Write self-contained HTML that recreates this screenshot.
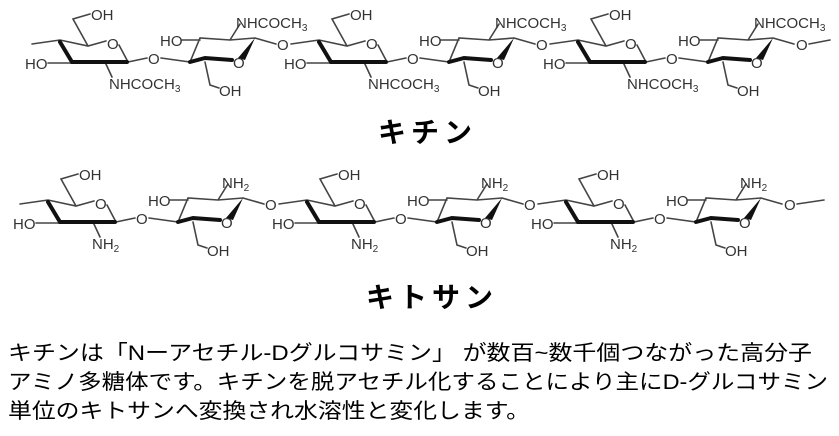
<!DOCTYPE html>
<html><head><meta charset="utf-8"><style>
html,body{margin:0;padding:0;background:#fff;}
svg{display:block;}
.s{stroke:#444;stroke-width:1.6;fill:none;stroke-linecap:round;}
.b{stroke:#111;stroke-width:4;fill:none;stroke-linecap:round;}
.t{font-family:"Liberation Sans",Arial,sans-serif;font-size:15px;fill:#333;}
.sub{font-size:10px;}
.h{font-family:"Liberation Sans","Noto Sans CJK JP",sans-serif;font-weight:bold;font-size:28px;fill:#000;}
.p{font-family:"Liberation Sans","Noto Sans CJK JP",sans-serif;font-size:21px;fill:#000;}
</style></head><body>
<svg width="839" height="436" viewBox="0 0 839 436" xmlns="http://www.w3.org/2000/svg">
<!-- CHITIN -->
<g>
<path class="s" d="M32 44 L60 40 L88 46 L106 41 M119 45 L128 62 M88 46 L73 19 L90 14 M48 63 L72 63 M105 62 L112 77 M128 62 L147 58 M161 58 L190 62 L200 38 L230 40 L255 38 M182 40 L200 40 M230 40 L240 24 M205 62 L210 85 L219 88 M255 38 L276 44"/>
<path class="b" d="M60 42 L72 62 L105 62 L127 62 M190 62 L205 58 L232 60"/>
<path d="M255 38 L238 58 L245 60 Z" fill="#111"/>
<text class="t" x="91" y="20">OH</text>
<text class="t" x="107" y="49">O</text>
<text class="t" x="25" y="69">HO</text>
<text class="t" x="109" y="89">NHCOCH<tspan class="sub" dy="3">3</tspan></text>
<text class="t" x="148" y="64">O</text>
<text class="t" x="160" y="46">HO</text>
<text class="t" x="236" y="28">NHCOCH<tspan class="sub" dy="3">3</tspan></text>
<text class="t" x="233" y="68">O</text>
<text class="t" x="219" y="96">OH</text>
</g>
<g transform="translate(259,0)">
<path class="s" d="M32 44 L60 40 L88 46 L106 41 M119 45 L128 62 M88 46 L73 19 L90 14 M48 63 L72 63 M105 62 L112 77 M128 62 L147 58 M161 58 L190 62 L200 38 L230 40 L255 38 M182 40 L200 40 M230 40 L240 24 M205 62 L210 85 L219 88 M255 38 L276 44"/>
<path class="b" d="M60 42 L72 62 L105 62 L127 62 M190 62 L205 58 L232 60"/>
<path d="M255 38 L238 58 L245 60 Z" fill="#111"/>
<text class="t" x="18" y="50">O</text>
<text class="t" x="91" y="20">OH</text>
<text class="t" x="107" y="49">O</text>
<text class="t" x="25" y="69">HO</text>
<text class="t" x="109" y="89">NHCOCH<tspan class="sub" dy="3">3</tspan></text>
<text class="t" x="148" y="64">O</text>
<text class="t" x="160" y="46">HO</text>
<text class="t" x="236" y="28">NHCOCH<tspan class="sub" dy="3">3</tspan></text>
<text class="t" x="233" y="68">O</text>
<text class="t" x="219" y="96">OH</text>
</g>
<g transform="translate(518,0)">
<path class="s" d="M32 44 L60 40 L88 46 L106 41 M119 45 L128 62 M88 46 L73 19 L90 14 M48 63 L72 63 M105 62 L112 77 M128 62 L147 58 M161 58 L190 62 L200 38 L230 40 L255 38 M182 40 L200 40 M230 40 L240 24 M205 62 L210 85 L219 88 M255 38 L276 44 M291 44 L312 40"/>
<path class="b" d="M60 42 L72 62 L105 62 L127 62 M190 62 L205 58 L232 60"/>
<path d="M255 38 L238 58 L245 60 Z" fill="#111"/>
<text class="t" x="18" y="50">O</text>
<text class="t" x="91" y="20">OH</text>
<text class="t" x="107" y="49">O</text>
<text class="t" x="25" y="69">HO</text>
<text class="t" x="109" y="89">NHCOCH<tspan class="sub" dy="3">3</tspan></text>
<text class="t" x="148" y="64">O</text>
<text class="t" x="160" y="46">HO</text>
<text class="t" x="236" y="28">NHCOCH<tspan class="sub" dy="3">3</tspan></text>
<text class="t" x="233" y="68">O</text>
<text class="t" x="219" y="96">OH</text>
<text class="t" x="278" y="50">O</text>
</g>
<text class="h" x="378" y="142" letter-spacing="5">キチン</text>

<!-- CHITOSAN -->
<g transform="translate(-12,160)">
<path class="s" d="M32 44 L60 40 L88 46 L106 41 M119 45 L128 62 M88 46 L73 19 L90 14 M48 63 L72 63 M105 62 L112 77 M128 62 L147 58 M161 58 L190 62 L200 38 L230 40 L255 38 M182 40 L200 40 M230 40 L240 24 M205 62 L210 85 L219 88 M255 38 L276 44"/>
<path class="b" d="M60 42 L72 62 L105 62 L127 62 M190 62 L205 58 L232 60"/>
<path d="M255 38 L238 58 L245 60 Z" fill="#111"/>
<text class="t" x="91" y="20">OH</text>
<text class="t" x="107" y="49">O</text>
<text class="t" x="25" y="69">HO</text>
<text class="t" x="104" y="89">NH<tspan class="sub" dy="3">2</tspan></text>
<text class="t" x="148" y="64">O</text>
<text class="t" x="160" y="46">HO</text>
<text class="t" x="234" y="28">NH<tspan class="sub" dy="3">2</tspan></text>
<text class="t" x="233" y="68">O</text>
<text class="t" x="219" y="96">OH</text>
</g>
<g transform="translate(247,160)">
<path class="s" d="M32 44 L60 40 L88 46 L106 41 M119 45 L128 62 M88 46 L73 19 L90 14 M48 63 L72 63 M105 62 L112 77 M128 62 L147 58 M161 58 L190 62 L200 38 L230 40 L255 38 M182 40 L200 40 M230 40 L240 24 M205 62 L210 85 L219 88 M255 38 L276 44"/>
<path class="b" d="M60 42 L72 62 L105 62 L127 62 M190 62 L205 58 L232 60"/>
<path d="M255 38 L238 58 L245 60 Z" fill="#111"/>
<text class="t" x="18" y="50">O</text>
<text class="t" x="91" y="20">OH</text>
<text class="t" x="107" y="49">O</text>
<text class="t" x="25" y="69">HO</text>
<text class="t" x="104" y="89">NH<tspan class="sub" dy="3">2</tspan></text>
<text class="t" x="148" y="64">O</text>
<text class="t" x="160" y="46">HO</text>
<text class="t" x="234" y="28">NH<tspan class="sub" dy="3">2</tspan></text>
<text class="t" x="233" y="68">O</text>
<text class="t" x="219" y="96">OH</text>
</g>
<g transform="translate(506,160)">
<path class="s" d="M32 44 L60 40 L88 46 L106 41 M119 45 L128 62 M88 46 L73 19 L90 14 M48 63 L72 63 M105 62 L112 77 M128 62 L147 58 M161 58 L190 62 L200 38 L230 40 L255 38 M182 40 L200 40 M230 40 L240 24 M205 62 L210 85 L219 88 M255 38 L276 44 M291 44 L318 40"/>
<path class="b" d="M60 42 L72 62 L105 62 L127 62 M190 62 L205 58 L232 60"/>
<path d="M255 38 L238 58 L245 60 Z" fill="#111"/>
<text class="t" x="18" y="50">O</text>
<text class="t" x="91" y="20">OH</text>
<text class="t" x="107" y="49">O</text>
<text class="t" x="25" y="69">HO</text>
<text class="t" x="104" y="89">NH<tspan class="sub" dy="3">2</tspan></text>
<text class="t" x="148" y="64">O</text>
<text class="t" x="160" y="46">HO</text>
<text class="t" x="234" y="28">NH<tspan class="sub" dy="3">2</tspan></text>
<text class="t" x="233" y="68">O</text>
<text class="t" x="219" y="96">OH</text>
<text class="t" x="278" y="50">O</text>
</g>
<text class="h" x="366" y="307" letter-spacing="5">キトサン</text>

<!-- paragraph -->
<text class="p" x="8" y="360" textLength="804" lengthAdjust="spacingAndGlyphs">キチンは「Nーアセチル-Dグルコサミン」 が数百~数千個つながった高分子</text>
<text class="p" x="8" y="389" textLength="820" lengthAdjust="spacingAndGlyphs">アミノ多糖体です。キチンを脱アセチル化することにより主にD-グルコサミン</text>
<text class="p" x="8" y="418" textLength="522" lengthAdjust="spacingAndGlyphs">単位のキトサンへ変換され水溶性と変化します。</text>
</svg>
</body></html>
